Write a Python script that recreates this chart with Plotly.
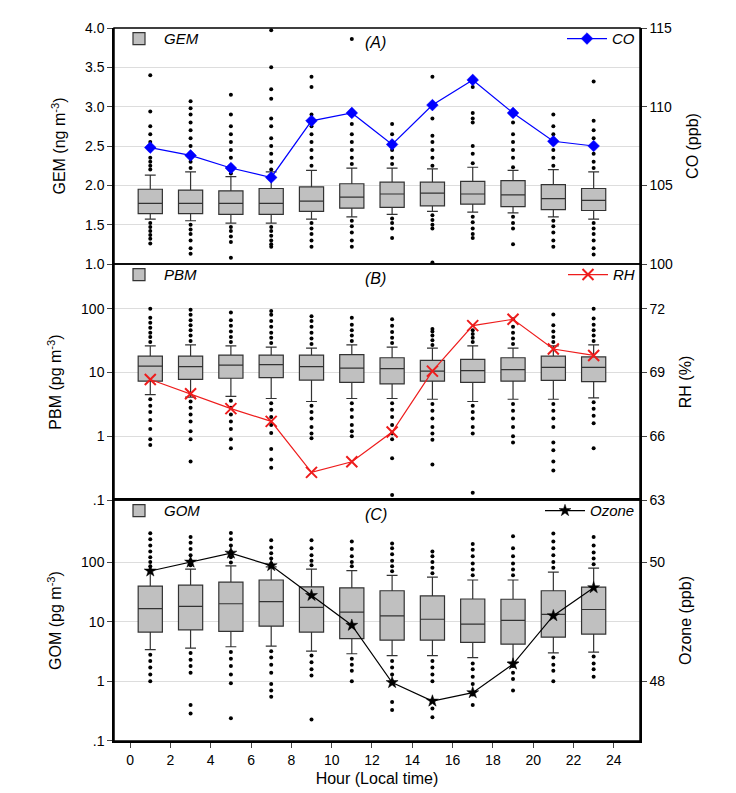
import plotly.graph_objects as go

hours = [1, 3, 5, 7, 9, 11, 13, 15, 17, 19, 21, 23]

# Panel A: GEM boxes (ng m-3) and CO (ppb)
gem_q1 = [1.64, 1.64, 1.63, 1.63, 1.67, 1.71, 1.72, 1.74, 1.76, 1.73, 1.69, 1.68]
gem_med = [1.77, 1.77, 1.77, 1.77, 1.80, 1.85, 1.89, 1.90, 1.89, 1.88, 1.83, 1.81]
gem_q3 = [1.95, 1.94, 1.93, 1.96, 1.98, 2.02, 2.04, 2.04, 2.05, 2.06, 2.01, 1.96]
gem_lo = [1.57, 1.55, 1.52, 1.52, 1.57, 1.60, 1.63, 1.67, 1.66, 1.65, 1.60, 1.57]
gem_hi = [2.13, 2.17, 2.11, 2.17, 2.19, 2.22, 2.22, 2.21, 2.23, 2.19, 2.20, 2.17]
gem_out_hi = [
    [2.2, 2.25, 2.3, 2.35, 2.45, 2.55, 2.65, 2.75, 2.94, 3.4],
    [2.22, 2.3, 2.4, 2.5, 2.6, 2.7, 2.8, 2.9, 2.98, 3.07],
    [2.15, 2.25, 2.35, 2.45, 2.55, 2.65, 2.75, 2.9, 3.15],
    [2.2, 2.3, 2.4, 2.5, 2.6, 2.75, 2.85, 3.1, 3.22, 3.5, 3.97],
    [2.25, 2.35, 2.45, 2.55, 2.65, 2.75, 2.9, 3.25, 3.38],
    [2.27, 2.35, 2.45, 2.55, 2.65, 2.78, 3.86],
    [2.27, 2.35, 2.45, 2.55, 2.65, 2.78],
    [2.25, 2.35, 2.45, 2.55, 2.63, 2.85, 3.38],
    [2.28, 2.4, 2.5, 2.8, 2.85, 2.92, 3.25],
    [2.23, 2.35, 2.45, 2.55, 2.65, 2.8],
    [2.25, 2.35, 2.45, 2.55, 2.65, 2.75, 2.9],
    [2.22, 2.3, 2.4, 2.5, 2.6, 2.7, 2.82, 3.32],
]
gem_out_lo = [
    [1.52, 1.47, 1.42, 1.37, 1.32, 1.26],
    [1.5, 1.44, 1.38, 1.3, 1.2, 1.13],
    [1.47, 1.42, 1.35, 1.28, 1.08],
    [1.47, 1.42, 1.36, 1.3, 1.25, 1.22],
    [1.52, 1.45, 1.38, 1.3, 1.22],
    [1.55, 1.48, 1.4, 1.3, 1.22],
    [1.58, 1.52, 1.45, 1.33],
    [1.62, 1.56, 1.5, 1.45, 1.02],
    [1.6, 1.53, 1.45, 1.38, 1.33],
    [1.6, 1.52, 1.45, 1.25],
    [1.55, 1.48, 1.4, 1.3, 1.22],
    [1.52, 1.45, 1.38, 1.3, 1.2, 1.12],
]
co = [107.4, 106.9, 106.1, 105.5, 109.1, 109.6, 107.6, 110.1, 111.7, 109.6, 107.8, 107.5]

# Panel B: PBM boxes (pg m-3) and RH (%)
pbm_q1 = [7.3, 7.8, 8.1, 8.3, 7.6, 7.0, 6.6, 7.3, 7.0, 7.3, 7.5, 7.2]
pbm_med = [12.6, 12.3, 13.0, 13.3, 12.3, 11.7, 11.5, 10.5, 10.7, 11.1, 12.0, 12.0]
pbm_q3 = [18.0, 18.0, 18.7, 18.7, 18.7, 19.0, 17.0, 15.4, 16.0, 17.0, 18.0, 17.5]
pbm_lo = [4.5, 4.1, 4.2, 3.9, 3.5, 3.9, 3.9, 3.8, 3.5, 3.8, 3.8, 4.0]
pbm_hi = [26, 27, 26, 25, 24, 27, 25, 24, 26, 24, 26, 27]
pbm_out_hi = [
    [30, 36, 42, 50, 60, 72, 100],
    [31, 38, 46, 55, 66, 80, 96],
    [30, 36, 44, 54, 66, 87],
    [29, 35, 42, 52, 64, 80, 92],
    [28, 34, 42, 52, 64, 76],
    [31, 38, 46, 56, 72],
    [29, 35, 43, 54, 68],
    [27, 32, 38, 44, 48],
    [30, 35, 40, 46],
    [28, 34, 42, 52, 68],
    [30, 36, 44, 55, 81],
    [31, 38, 46, 56, 70, 100],
]
pbm_out_lo = [
    [3.8, 3.0, 2.4, 1.8, 1.3, 0.9, 0.73],
    [3.5, 2.8, 2.2, 1.7, 1.2, 0.9, 0.4],
    [3.6, 2.8, 2.2, 1.7, 1.3, 0.9, 0.65],
    [3.3, 2.6, 2.0, 1.5, 1.12, 0.63, 0.43, 0.32],
    [3.0, 2.4, 1.9, 1.4, 1.1, 0.93],
    [3.3, 2.6, 2.0, 1.5, 1.2, 1.0],
    [3.3, 2.6, 2.0, 1.5, 1.1, 0.9, 0.45, 0.12],
    [3.2, 2.5, 1.9, 1.4, 1.1, 0.88, 0.36],
    [3.0, 2.4, 1.9, 1.4, 1.1, 0.13],
    [3.2, 2.5, 1.9, 1.4, 1.0, 0.8],
    [3.2, 2.5, 1.9, 1.4, 0.8, 0.6, 0.4, 0.29],
    [3.4, 2.7, 2.1, 1.6, 0.65],
]
rh = [68.67, 68.0, 67.3, 66.7, 64.3, 64.8, 66.2, 69.06, 71.2, 71.5, 70.1, 69.8]

# Panel C: GOM boxes (pg m-3) and Ozone (ppb)
gom_q1 = [6.7, 7.3, 6.9, 8.4, 6.7, 5.2, 4.9, 4.9, 4.5, 4.2, 5.5, 6.2]
gom_med = [16.6, 18.0, 20.0, 21.7, 17.4, 14.5, 12.5, 11.0, 9.1, 10.5, 13.3, 16.0]
gom_q3 = [39.5, 41, 46, 50, 38.5, 37, 33, 27, 24, 23.8, 33, 38]
gom_lo = [3.4, 3.6, 3.8, 3.9, 3.2, 2.9, 2.7, 2.7, 2.5, 2.1, 3.0, 3.1]
gom_hi = [75, 76, 86, 83, 76, 72, 60, 56, 50, 50, 68, 79]
gom_out_hi = [
    [85, 100, 120, 150, 190, 240, 303],
    [88, 105, 130, 165, 210, 264],
    [98, 120, 150, 190, 240, 308],
    [95, 115, 140, 175, 232],
    [88, 105, 130, 170, 232],
    [85, 100, 125, 165, 220],
    [70, 85, 105, 135, 170, 205],
    [65, 80, 100, 125, 150],
    [60, 75, 95, 125, 160, 200],
    [60, 75, 95, 125, 170, 270],
    [80, 100, 130, 170, 220, 300],
    [92, 115, 145, 190, 264],
]
gom_out_lo = [
    [2.8, 2.2, 1.7, 1.3, 1.0],
    [3.0, 2.3, 1.8, 1.4, 0.4, 0.29],
    [3.1, 2.4, 1.8, 1.3, 0.93, 0.24],
    [3.2, 2.5, 1.9, 1.4, 0.9, 0.7, 0.55],
    [2.7, 2.1, 1.6, 1.25, 0.23],
    [2.4, 1.9, 1.5, 1.0],
    [2.2, 1.7, 1.3, 1.0, 0.45, 0.33],
    [2.2, 1.7, 1.3, 1.0, 0.35, 0.25],
    [2.0, 1.6, 1.2, 0.9, 0.6, 0.4],
    [1.8, 1.4, 1.1, 0.7],
    [2.5, 1.9, 1.5, 1.0],
    [2.6, 2.0, 1.6, 1.2],
]
ozone = [49.85, 50.0, 50.15, 49.94, 49.44, 48.94, 47.98, 47.67, 47.81, 48.29, 49.1, 49.57]

FONT = "Liberation Sans, Arial, sans-serif"
fig = go.Figure()

panels = [
    ("GEM", gem_q1, gem_med, gem_q3, gem_lo, gem_hi, gem_out_hi, gem_out_lo, "y", "y2",
     "CO", co, "#0000ff", "diamond", 9, "legend", "legend2"),
    ("PBM", pbm_q1, pbm_med, pbm_q3, pbm_lo, pbm_hi, pbm_out_hi, pbm_out_lo, "y3", "y4",
     "RH", rh, "#ee1c1c", "x-thin", 11, "legend3", "legend4"),
    ("GOM", gom_q1, gom_med, gom_q3, gom_lo, gom_hi, gom_out_hi, gom_out_lo, "y5", "y6",
     "Ozone", ozone, "#000000", "star", 9, "legend5", "legend6"),
]

for (name, q1, med, q3, lo, hi, ohi, olo, yl, yr, lname, lvals, lcol, sym, msz, lg1, lg2) in panels:
    ox, oy = [], []
    for h, a, b in zip(hours, ohi, olo):
        for v in a + b:
            ox.append(h)
            oy.append(v)
    fig.add_trace(go.Scatter(x=ox, y=oy, yaxis=yl, mode="markers", showlegend=False,
                             marker=dict(color="black", size=4)))
    fig.add_trace(go.Box(x=hours, q1=q1, median=med, q3=q3, lowerfence=lo, upperfence=hi,
                         yaxis=yl, name="<i>%s</i>" % name, legend=lg1, width=1.2,
                         whiskerwidth=0.45, fillcolor="#c0c0c0", boxpoints=False,
                         line=dict(color="#333333", width=1.2)))
    fig.add_trace(go.Scatter(x=hours, y=lvals, yaxis=yr, name="<i>%s</i>" % lname, legend=lg2,
                             mode="lines+markers", line=dict(color=lcol, width=1.2),
                             marker=dict(symbol=sym, size=msz, color=lcol,
                                         line=dict(color=lcol, width=2 if sym == "x-thin" else 0.5))))

doms = [[0.669, 1.0], [0.338, 0.669], [0.0, 0.338]]
tick_font = dict(family=FONT, size=14, color="black")
title_font = dict(family=FONT, size=16, color="black")
common = dict(showline=True, linecolor="black", linewidth=1.5, ticks="outside",
              ticklen=5, tickfont=tick_font, title_font=title_font, zeroline=False)

fig.update_layout(
    width=736, height=793, plot_bgcolor="white", paper_bgcolor="white",
    margin=dict(l=106, r=104, t=20, b=60), font=dict(family=FONT),
    xaxis=dict(range=[-0.8, 25.3], tickvals=list(range(0, 25, 2)), showgrid=False,
               title=dict(text="Hour (Local time)", standoff=6), anchor="y5", mirror=True, **common),
    yaxis=dict(domain=doms[0], range=[1, 4], dtick=0.5, tickformat=".1f", anchor="x",
               gridcolor="#dddddd", title=dict(text="GEM (ng m<sup>-3</sup>)"), **common),
    yaxis2=dict(domain=doms[0], range=[100, 115], dtick=5, overlaying="y", side="right",
                anchor="x", showgrid=False, title=dict(text="CO (ppb)"), **common),
    yaxis3=dict(domain=doms[1], type="log", range=[-1, 2.7], tickvals=[0.1, 1, 10, 100],
                ticktext=[".1", "1", "10", "100"], anchor="x", gridcolor="#dddddd",
                title=dict(text="PBM (pg m<sup>-3</sup>)"), **common),
    yaxis4=dict(domain=doms[1], range=[63, 74.1], tickvals=[63, 66, 69, 72], overlaying="y3",
                side="right", anchor="x", showgrid=False, title=dict(text="RH (%)"), **common),
    yaxis5=dict(domain=doms[2], type="log", range=[-1, 3.04], tickvals=[0.1, 1, 10, 100],
                ticktext=[".1", "1", "10", "100"], anchor="x", gridcolor="#dddddd",
                title=dict(text="GOM (pg m<sup>-3</sup>)"), **common),
    yaxis6=dict(domain=doms[2], range=[47, 51.04], tickvals=[48, 50], overlaying="y5",
                side="right", anchor="x", showgrid=False, title=dict(text="Ozone (ppb)"), **common),
)

leg = dict(bgcolor="rgba(0,0,0,0)", font=dict(family=FONT, size=15, color="black"),
           yanchor="top", itemwidth=40)
for i, d in enumerate(doms):
    fig.update_layout({
        ("legend" if i == 0 else "legend%d" % (2 * i + 1)): dict(x=0.0, y=d[1] + 0.008, xanchor="left", **leg),
        "legend%d" % (2 * i + 2): dict(x=1.0, y=d[1] + 0.008, xanchor="right", **leg),
    })
    fig.add_annotation(x=12.2, y=d[1] - 0.005, xref="x", yref="paper", yanchor="top",
                       text="<i>(%s)</i>" % "ABC"[i], showarrow=False,
                       font=dict(family=FONT, size=16, color="black"))
    fig.add_shape(type="rect", xref="paper", yref="paper", x0=0, x1=1, y0=d[0], y1=d[1],
                  line=dict(color="black", width=1.5))

fig.write_html("out.html")
